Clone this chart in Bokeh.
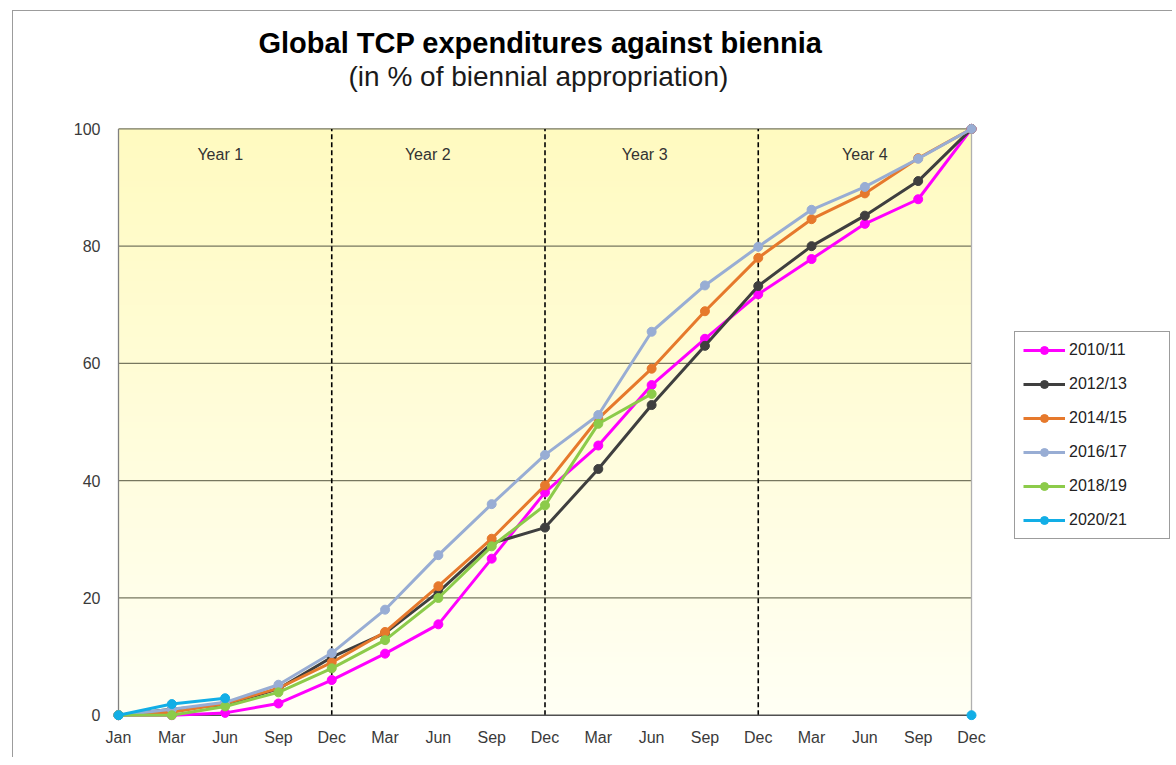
import numpy as np
from bokeh.plotting import figure
from bokeh.models import FixedTicker, Title, Legend, LegendItem, Range1d
from bokeh.embed import file_html
from bokeh.resources import INLINE
from bokeh.core.properties import value

# ---------------- data ----------------
months = ["Jan", "Mar", "Jun", "Sep", "Dec", "Mar", "Jun", "Sep", "Dec",
          "Mar", "Jun", "Sep", "Dec", "Mar", "Jun", "Sep", "Dec"]
nan = float("nan")
series_names = ["2010/11", "2012/13", "2014/15", "2016/17", "2018/19", "2020/21"]
s2010_11 = [0, 0, 0.4, 2, 6, 10.5, 15.5, 26.7, 38, 46, 56.3, 64.2, 71.8, 77.8, 83.8, 88, 100]
s2012_13 = [0, 1, 1.8, 4.5, 9.9, 14, 21, 29.3, 32, 42, 52.9, 63, 73.2, 80, 85.2, 91.1, 100]
s2014_15 = [0, 0.5, 2, 4.6, 9, 14.2, 22, 30.1, 39.2, 50.6, 59.1, 68.9, 78, 84.6, 89, 95, 100]
s2016_17 = [0, 1, 2.2, 5.2, 10.6, 18, 27.3, 36, 44.4, 51.2, 65.4, 73.3, 79.9, 86.2, 90.1, 94.9, 100]
s2018_19 = [0, 0, 1.5, 3.9, 8, 12.8, 20, 28.8, 35.8, 49.7, 54.8,
            nan, nan, nan, nan, nan, nan]
s2020_21 = [0, 1.9, 2.9, nan, nan, nan, nan, nan, nan, nan, nan, nan, nan, nan, nan, nan, 0]
series_values = [s2010_11, s2012_13, s2014_15, s2016_17, s2018_19, s2020_21]
series_colors = ["#FF00FF", "#3F3F3F", "#E6792C", "#98ADD4", "#8CCB4A", "#12AEE6"]

year_labels = ["Year  1", "Year 2", "Year 3", "Year 4"]
year_label_x = [1.95, 5.8, 9.87, 14.0]
year_label_y = 95.7
year_dividers = [4, 8, 12]
y_ticks = [0, 20, 40, 60, 80, 100]

title_text = "Global TCP expenditures against biennia"
subtitle_text = "(in % of biennial appropriation)"

# ---------------- figure ----------------
x_lo, x_hi = 0, len(months) - 1
y_lo, y_hi = y_ticks[0], y_ticks[-1]
FONT = "Liberation Sans"

# plot area 0..16 spans 853 px; frame extends to the right to hold the legend
px_per_x = 853 / (x_hi - x_lo)
x_start = x_lo - 11 / px_per_x
x_end = x_start + 1064 / px_per_x

p = figure(width=1160, height=747, output_backend="svg", toolbar_location=None,
           x_range=Range1d(x_start, x_end), y_range=Range1d(y_lo - 0.9, y_hi + 1.6),
           min_border_left=94, min_border_right=2, min_border_top=108, min_border_bottom=38,
           background_fill_color="white", border_fill_color="white",
           margin=(10, 0, 0, 12))
p.styles = {"border-top": "1px solid #9c9c9c", "border-left": "1px solid #9c9c9c"}
p.outline_line_color = None
p.grid.visible = False

# main title (outermost panel)
p.title.text = title_text
p.title.align = "left"
p.title.offset = 151
p.title.text_font = FONT
p.title.text_font_size = "29px"
p.title.text_font_style = "bold"
p.title.text_color = "#000000"
p.title.standoff = 0
# spacer between the subtitle and the plot area (closest to the frame)
spacer = Title(text=" ", text_font=FONT, text_font_size="8px", standoff=17)
p.add_layout(spacer, "above")
sub = Title(text=subtitle_text, align="left", offset=241, text_font=FONT, text_font_size="28px",
            text_font_style="normal", text_color="#1a1a1a", standoff=0)
p.add_layout(sub, "above")

# axes
p.xaxis.ticker = FixedTicker(ticks=list(range(len(months))))
p.xaxis.major_label_overrides = {i: m for i, m in enumerate(months)}
p.yaxis.ticker = FixedTicker(ticks=y_ticks)
for ax in (p.xaxis, p.yaxis):
    ax.axis_line_color = None
    ax.major_tick_line_color = None
    ax.minor_tick_line_color = None
    ax.major_label_text_font = FONT
    ax.major_label_text_font_size = "16px"
    ax.major_label_text_color = "#3a3a3a"
p.xaxis.major_label_standoff = 2
p.yaxis.major_label_standoff = 1

# background gradient of plot area
n = 200
img = np.empty((n, 1), dtype=np.uint32)
view = img.view(dtype=np.uint8).reshape((n, 1, 4))
for i in range(n):
    t = i / (n - 1)
    view[i, 0, 0] = 255
    view[i, 0, 1] = int(round(255 + (250 - 255) * t))
    view[i, 0, 2] = int(round(244 + (192 - 244) * t))
    view[i, 0, 3] = 255
p.image_rgba(image=[img], x=x_lo, y=y_lo, dw=x_hi - x_lo, dh=y_hi - y_lo)

# grid lines
p.segment(x0=x_lo, x1=x_hi, y0=y_ticks[1:], y1=y_ticks[1:], line_color="#77775f", line_width=1.3)
# year dividers
p.segment(x0=year_dividers, x1=year_dividers, y0=y_lo, y1=y_hi, line_color="black",
          line_width=1.6, line_dash="5 3")
# plot area border
p.segment(x0=[x_lo, x_hi], x1=[x_lo, x_hi], y0=y_lo, y1=y_hi, line_color=["#808080", "#b0b0b0"], line_width=1.3)
p.segment(x0=x_lo, x1=x_hi, y0=y_lo, y1=y_lo, line_color="#505050", line_width=1.5)

# year labels
p.text(x=year_label_x, y=[year_label_y] * len(year_labels), text=year_labels,
       text_align="center", text_baseline="middle", text_font=value(FONT),
       text_font_size="16px", text_color="#333333")

xs = list(range(len(months)))
items = []
for name, vals, col in zip(series_names, series_values, series_colors):
    r1 = p.line(xs, vals, line_color=col, line_width=3)
    r2 = p.scatter(xs, vals, marker="circle", size=9, fill_color=col, line_color=col)
    items.append(LegendItem(label=name, renderers=[r1, r2]))

legend = Legend(items=items, location=(907, 181), margin=0, padding=8, spacing=14,
                glyph_width=42, glyph_height=20, label_height=20, label_standoff=4,
                label_width=92, label_text_font=FONT, label_text_font_size="16px",
                label_text_color="#222222", border_line_color="#3a3a3a", border_line_width=1.5,
                background_fill_color="white", background_fill_alpha=1)
p.add_layout(legend, "center")

open("out.html", "w").write(file_html(p, INLINE))
